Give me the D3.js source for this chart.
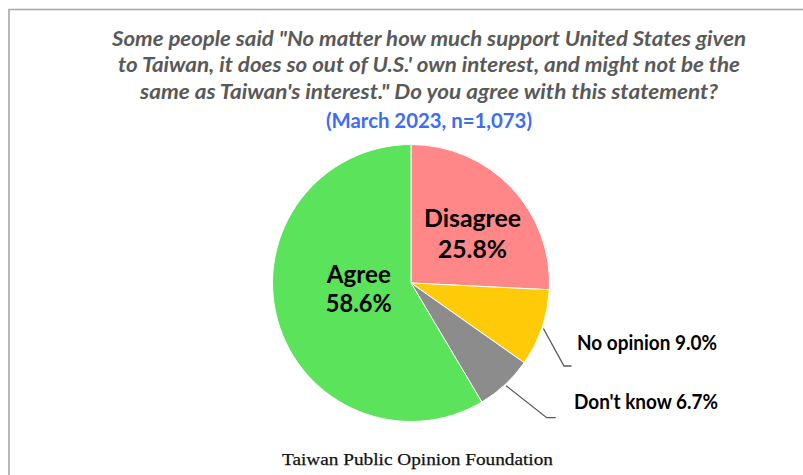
<!DOCTYPE html>
<html>
<head>
<meta charset="utf-8">
<script src="https://cdn.jsdelivr.net/npm/d3@7"></script>
<style>
  html, body { margin: 0; padding: 0; background: #fff; }
  svg { display: block; }
</style>
</head>
<body>
<svg id="chart" width="803" height="475"></svg>
<script>
// ---- data ----
const categories = ["Disagree", "No opinion", "Don't know", "Agree"];
const values = [25.8, 9.0, 6.7, 58.6];
const sliceColors = ["#FF8787", "#FFCA08", "#8C8C8C", "#5BE35B"];
const titleLines = [
  "Some people said \"No matter how much support United States given",
  "to Taiwan, it does so out of U.S.' own interest, and might not be the",
  "same as Taiwan's interest.\" Do you agree with this statement?"
];
const subtitle = "(March 2023, n=1,073)";
const source = "Taiwan Public Opinion Foundation";

// ---- layout ----
const svg = d3.select("#chart");
const cx = 411, cy = 283, R = 138.5;

// frame
svg.append("path")
  .attr("d", "M9,480V9.5H810")
  .attr("fill", "none")
  .attr("stroke", "#A6A6A6")
  .attr("stroke-width", 1.6);

function fit(sel, width) {
  sel.each(function () {
    const w = this.getComputedTextLength();
    if (w > 0) d3.select(this).attr("textLength", width).attr("lengthAdjust", "spacingAndGlyphs");
  });
}

// title
const titleX = 429;
const titleBaselines = [45.7, 72.3, 99];
const titleWidths = [634, 622, 578];
titleLines.forEach((t, i) => {
  svg.append("text")
    .attr("x", titleX).attr("y", titleBaselines[i])
    .attr("text-anchor", "middle")
    .attr("font-family", "Lato, 'Open Sans', sans-serif")
    .attr("font-style", "italic").attr("font-weight", "bold")
    .attr("font-size", 20.5)
    .attr("fill", "#595959")
    .text(t)
    .call(fit, titleWidths[i]);
});
svg.append("text")
  .attr("x", titleX).attr("y", 127.5)
  .attr("text-anchor", "middle")
  .attr("font-family", "Lato, 'Open Sans', sans-serif")
  .attr("font-weight", "bold")
  .attr("font-size", 20.5)
  .attr("fill", "#3D6CF5")
  .text(subtitle)
  .call(fit, 206);

// pie
const pie = d3.pie().sort(null).value(d => d.value);
const data = categories.map((c, i) => ({ name: c, value: values[i] }));
const arcs = pie(data);
const arc = d3.arc().innerRadius(0).outerRadius(R);
const color = d3.scaleOrdinal().domain(categories).range(sliceColors);

const g = svg.append("g").attr("transform", `translate(${cx},${cy})`);
g.selectAll("path.slice")
  .data(arcs)
  .join("path")
  .attr("class", "slice")
  .attr("d", arc)
  .attr("fill", d => color(d.data.name))
  .attr("stroke", "#ffffff")
  .attr("stroke-width", 1);

// inside labels
const fmt = v => v.toFixed(1) + "%";
const inside = {
  "Disagree": { x: 472.5, y1: 226.8, y2: 258.3, w1: 97, w2: 69 },
  "Agree": { x: 358.8, y1: 283.3, y2: 312.2, w1: 64, w2: 66 }
};
arcs.filter(a => inside[a.data.name]).forEach(a => {
  const p = inside[a.data.name];
  svg.append("text")
    .attr("x", p.x).attr("y", p.y1)
    .attr("text-anchor", "middle")
    .attr("font-family", "Lato, 'Open Sans', sans-serif")
    .attr("font-weight", "bold").attr("font-size", 25)
    .attr("fill", "#000")
    .text(a.data.name)
    .call(fit, p.w1);
  svg.append("text")
    .attr("x", p.x).attr("y", p.y2)
    .attr("text-anchor", "middle")
    .attr("font-family", "Lato, 'Open Sans', sans-serif")
    .attr("font-weight", "bold").attr("font-size", 25)
    .attr("fill", "#000")
    .text(fmt(a.data.value))
    .call(fit, p.w2);
});

// outside labels with leader lines
const outside = {
  "No opinion": { elbow: [564, 366], end: [571.5, 366], tx: 577, ty: 350.3, w: 140 },
  "Don't know": { elbow: [546.7, 417.7], end: [555.7, 417.7], tx: 574, ty: 408.6, w: 144 }
};
arcs.filter(a => outside[a.data.name]).forEach(a => {
  const p = outside[a.data.name];
  const mid = (a.startAngle + a.endAngle) / 2;
  const sx = cx + Math.sin(mid) * (R + 1.5);
  const sy = cy - Math.cos(mid) * (R + 1.5);
  svg.append("path")
    .attr("d", d3.line()([[sx, sy], p.elbow, p.end]))
    .attr("fill", "none")
    .attr("stroke", "#595959")
    .attr("stroke-width", 1.3);
  svg.append("text")
    .attr("x", p.tx).attr("y", p.ty)
    .attr("font-family", "Lato, 'Open Sans', sans-serif")
    .attr("font-weight", "bold").attr("font-size", 20)
    .attr("fill", "#000")
    .text(a.data.name + " " + fmt(a.data.value))
    .call(fit, p.w);
});

// source
svg.append("text")
  .attr("x", 417.5).attr("y", 465)
  .attr("text-anchor", "middle")
  .attr("font-family", "'Liberation Serif', 'DejaVu Serif', serif")
  .attr("font-size", 17.5)
  .attr("fill", "#111")
  .attr("stroke", "#111").attr("stroke-width", 0.25)
  .text(source)
  .call(fit, 271);
</script>
</body>
</html>
